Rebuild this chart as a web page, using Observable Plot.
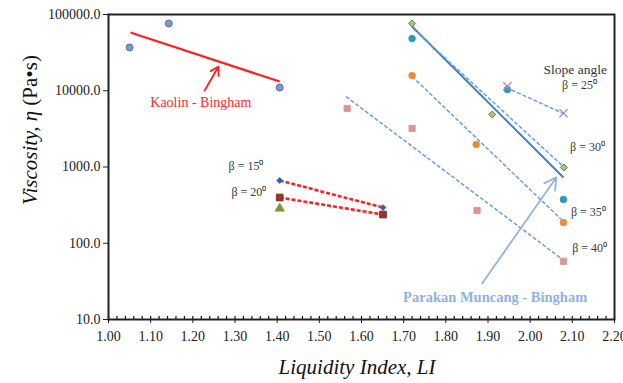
<!DOCTYPE html>
<html><head><meta charset="utf-8">
<script src="https://cdn.jsdelivr.net/npm/d3@7"></script>
<script src="https://cdn.jsdelivr.net/npm/@observablehq/plot@0.6"></script>
<style>body{margin:0;background:#fff}</style>
</head><body><div id="chart"></div>
<script>
// ---- data ----
const yTicks = [10, 100, 1000, 10000, 100000];
const xTicks = [1.0,1.1,1.2,1.3,1.4,1.5,1.6,1.7,1.8,1.9,2.0,2.1,2.2];

// measured points
const ptSeries = ["kaolin","kaolin","kaolin",
  "b15","b15","b20","b20","tri",
  "dia","dia","dia","teal","teal","teal","orange","orange","orange",
  "pink","pink","pink","pink","cross","cross"];
const ptLI  = [1.050,1.143,1.406,
  1.406,1.651,1.406,1.651,1.406,
  1.720,1.910,2.080,1.720,1.946,2.079,1.720,1.872,2.079,
  1.566,1.720,1.874,2.079,1.946,2.079];
const ptEta = [36900,76200,11040,
  665,294,398,238,286,
  76200,4880,985,48400,10380,375,15850,1970,187,
  5850,3200,269,58,11400,5080];

// fitted Bingham lines (end points)
const fitNames = ["kaolin","pm","b30","b35","b40","b25","b15","b20"];
const fitLI0  = [1.052,1.720,1.722,1.720,1.563,1.943,1.406,1.406];
const fitEta0 = [58100,69600,65500,15400,8400,11040,665,398];
const fitLI1  = [1.406,2.079,2.081,2.074,2.074,2.079,1.651,1.651];
const fitEta1 = [13200,728,985,205,63,5030,294,238];

// annotation arrows
const arrowNames = ["kaolin","pm"];
const arrowLI0 = [1.228,1.886];
const arrowEta0 = [10070,29.6];
const arrowLI1 = [1.261,2.062];
const arrowEta1 = [20800,728];

// annotation texts
const noteText = ["Kaolin - Bingham","Parakan Muncang - Bingham","Slope angle",
  "β = 25⁰","β = 30⁰","β = 35⁰","β = 40⁰","β = 15⁰","β = 20⁰"];
const noteLI  = [1.219,1.917,2.107,2.117,2.136,2.138,2.141,1.326,1.333];
const noteEta = [7010,19.4,19000,11700,1800,253,85,1015,463];

// ---- tables ----
const points = ptLI.map((x,i)=>({s:ptSeries[i], x, y:ptEta[i]}));
const fits = fitNames.map((n,i)=>({n, x1:fitLI0[i], y1:fitEta0[i], x2:fitLI1[i], y2:fitEta1[i]}));
const arrows = arrowNames.map((n,i)=>({n, x1:arrowLI0[i], y1:arrowEta0[i], x2:arrowLI1[i], y2:arrowEta1[i]}));
const notes = noteText.map((t,i)=>({t, x:noteLI[i], y:noteEta[i]}));
const minor = d3.range(0, 61).map(i => 1 + i*0.02).filter(v => Math.abs(v*10 - Math.round(v*10)) > 1e-6);

const FONT = "'Liberation Serif', 'Times New Roman', serif";
const blueDash = "#6b9de0", blueSolid = "#3f7fd6", red = "#ff1f1f";
const W = 623, H = 383, mT = 14, mB = 64, mL = 108, mR = 9;

const dotStyle = {
  kaolin: {symbol:"circle", fill:"#7f98cc", stroke:"#52689a", r:3.5},
  b15:    {symbol:"diamond2", fill:"#2f5fb0", stroke:"#2f5fb0", r:2.6},
  b20:    {symbol:"square", fill:"#9a3432", stroke:"#7a2a28", r:3.8},
  tri:    {symbol:"triangle", fill:"#77973a", stroke:"#77973a", r:3.4},
  dia:    {symbol:"diamond2", fill:"#a9c47a", stroke:"#5d7a3a", r:3.2},
  teal:   {symbol:"circle", fill:"#2e9ab5", stroke:"#2e9ab5", r:3.3},
  orange: {symbol:"circle", fill:"#ec8a36", stroke:"#ec8a36", r:3.3},
  pink:   {symbol:"square", fill:"#d99694", stroke:"#d99694", r:3.5},
  cross:  {symbol:"times", fill:"none", stroke:"#9d8cc8", r:3.8}
};
const dotMarks = Object.entries(dotStyle).map(([k,st]) =>
  Plot.dot(points.filter(d=>d.s===k), {x:"x", y:"y", symbol:st.symbol, r:st.r, fill:st.fill, stroke:st.stroke, strokeWidth: k==="cross"?1.3:0.9}));

const fitStyle = {
  kaolin:{stroke:red, strokeWidth:2.2},
  pm:{stroke:blueSolid, strokeWidth:2},
  b30:{stroke:blueDash, strokeWidth:1.5, strokeDasharray:"4,2"},
  b35:{stroke:blueDash, strokeWidth:1.5, strokeDasharray:"4,2"},
  b40:{stroke:blueDash, strokeWidth:1.5, strokeDasharray:"4,2"},
  b25:{stroke:blueDash, strokeWidth:1.5, strokeDasharray:"4,2"},
  b15:{stroke:red, strokeWidth:2.6, strokeDasharray:"4,2"},
  b20:{stroke:red, strokeWidth:2.6, strokeDasharray:"4,2"}
};
const fitMarks = Object.entries(fitStyle).map(([k,st]) =>
  Plot.link(fits.filter(d=>d.n===k), {x1:"x1", y1:"y1", x2:"x2", y2:"y2", ...st}));

const isKaolin = d => d.t.startsWith("Kaolin");
const isPM = d => d.t.startsWith("Parakan");
const isSlope = d => d.t.startsWith("Slope");

const chart = Plot.plot({
  width: W, height: H,
  marginTop: mT, marginBottom: mB, marginLeft: mL, marginRight: mR,
  style: {fontFamily: FONT, fontSize: "14px", color: "#222", background: "#fff"},
  x: {type: "linear", domain: [1, 2.2]},
  y: {type: "log", domain: [10, 100000]},
  marks: [
    ...fitMarks,
    Plot.arrow(arrows.filter(d=>d.n==="kaolin"), {x1:"x1", y1:"y1", x2:"x2", y2:"y2", stroke:red, strokeWidth:1.8, headLength:9, bend:0}),
    Plot.arrow(arrows.filter(d=>d.n==="pm"), {x1:"x1", y1:"y1", x2:"x2", y2:"y2", stroke:"#8db3e2", strokeWidth:1.8, headLength:11, bend:0}),
    ...dotMarks,
    Plot.text(notes.filter(isKaolin), {x:"x", y:"y", text:"t", fill:"#ff2a2a", fontSize:14, textAnchor:"middle"}),
    Plot.text(notes.filter(isPM), {x:"x", y:"y", text:"t", fill:"#8db3e2", fontSize:14.5, fontWeight:"bold", textAnchor:"middle"}),
    Plot.text(notes.filter(isSlope), {x:"x", y:"y", text:"t", fill:"#333", fontSize:13.5, textAnchor:"middle"}),
    Plot.text(notes.filter(d=>!isKaolin(d) && !isPM(d) && !isSlope(d)), {x:"x", y:"y", text:"t", fill:"#3a3a3a", fontSize:12, textAnchor:"middle"}),
    Plot.axisY({ticks: yTicks, tickFormat: d3.format(".1f"), tickSize: 5, tickPadding: 3, label: null, fontSize: 14}),
    Plot.axisX({ticks: xTicks, tickFormat: d3.format(".2f"), tickSize: 4, tickPadding: 8, label: null, fontSize: 14}),
    Plot.tickX(xTicks, {x: d=>d, insetTop: H - mT - mB - 3, stroke:"#111", strokeWidth:1.2}),
    Plot.tickX(minor, {x: d=>d, insetTop: H - mT - mB - 3, stroke:"#111", strokeWidth:1.2}),
    Plot.frame({stroke: "#222", strokeWidth: 2})
  ]
});

const svg = d3.select(chart);
const yl = svg.append("text")
  .attr("transform", `translate(32,${mT + 116}) rotate(-90)`)
  .attr("text-anchor", "middle")
  .attr("dominant-baseline", "middle")
  .style("font-family", FONT)
  .attr("font-size", 21).attr("fill", "#111");
yl.append("tspan").attr("font-style", "italic").text("Viscosity, η");
yl.append("tspan").text(" (Pa•s)");
svg.append("text")
  .attr("x", 357).attr("y", 369)
  .attr("text-anchor", "middle")
  .attr("dominant-baseline", "middle")
  .style("font-family", FONT)
  .attr("font-style", "italic")
  .attr("font-size", 21).attr("fill", "#111")
  .text("Liquidity Index, LI");

document.getElementById("chart").appendChild(chart);
</script>
</body></html>
